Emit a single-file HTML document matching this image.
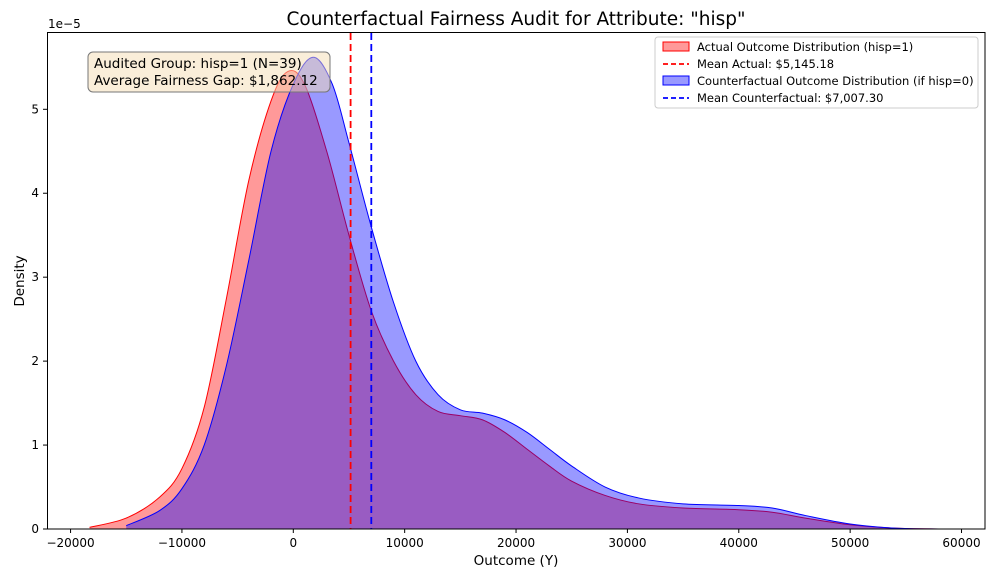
<!DOCTYPE html><html><head><style>body{margin:0;background:#fff}svg{font-family:"DejaVu Sans","Liberation Sans",sans-serif}</style></head><body>
<svg id="s" width="997" height="581" xmlns="http://www.w3.org/2000/svg">
<text x="516" y="25" font-size="18.5" text-anchor="middle">Counterfactual Fairness Audit for Attribute: "hisp"</text>
<g id="curves"></g>
<line x1="350.6" y1="33" x2="350.6" y2="529" stroke="#f00" stroke-width="1.8" stroke-dasharray="7,4"/>
<line x1="371.3" y1="33" x2="371.3" y2="529" stroke="#00f" stroke-width="1.8" stroke-dasharray="7,4"/>
<rect x="47.5" y="32.5" width="937.5" height="496.5" fill="none" stroke="#000" stroke-width="1"/>
<g id="ticks" font-size="12"></g>
<text x="516" y="565" font-size="13.5" text-anchor="middle">Outcome (Y)</text>
<text transform="translate(24,281) rotate(-90)" font-size="13.5" text-anchor="middle">Density</text>
<text x="48" y="28" font-size="12">1e−5</text>
<rect x="88" y="52" width="242" height="40" rx="5" fill="#f5deb3" fill-opacity="0.5" stroke="#777"/>
<text x="94" y="68" font-size="13.5">Audited Group: hisp=1 (N=39)</text>
<text x="94" y="85" font-size="13.5">Average Fairness Gap: $1,862.12</text>
<g font-size="11.5">
<rect x="655" y="37" width="323" height="71" rx="3" fill="#fff" fill-opacity="0.8" stroke="#ccc"/>
<rect x="663" y="42" width="26" height="9" fill="#f00" fill-opacity="0.4" stroke="#f00"/>
<text x="697" y="51">Actual Outcome Distribution (hisp=1)</text>
<line x1="663" y1="64" x2="689" y2="64" stroke="#f00" stroke-width="1.8" stroke-dasharray="5,3"/>
<text x="697" y="68">Mean Actual: $5,145.18</text>
<rect x="663" y="76" width="26" height="9" fill="#00f" fill-opacity="0.4" stroke="#00f"/>
<text x="697" y="85">Counterfactual Outcome Distribution (if hisp=0)</text>
<line x1="663" y1="98" x2="689" y2="98" stroke="#00f" stroke-width="1.8" stroke-dasharray="5,3"/>
<text x="697" y="102">Mean Counterfactual: $7,007.30</text>
</g>
</svg>
<script>
var X=v=>293.3+v*0.011137,Y=d=>529-d*83.94;
var R=[[-18300,0.02],[-15000,0.13],[-12000,0.38],[-10000,0.72],[-8000,1.45],[-6000,2.75],[-4000,4.15],[-2000,5.1],[-500,5.45],[1000,5.3],[3000,4.5],[5000,3.5],[7000,2.6],[9000,2.0],[11000,1.6],[13000,1.4],[15000,1.35],[17000,1.3],[19000,1.15],[21000,0.95],[23000,0.75],[25000,0.57],[28000,0.4],[31000,0.3],[35000,0.25],[40000,0.23],[43000,0.2],[46000,0.13],[50000,0.05],[54000,0.01],[58000,0]];
var B=[[-15000,0.04],[-12000,0.22],[-10000,0.48],[-8000,1.0],[-6000,1.95],[-4000,3.2],[-2000,4.5],[0,5.3],[1800,5.62],[3500,5.3],[5000,4.6],[7000,3.6],[9000,2.7],[11000,2.0],[13000,1.6],[15000,1.42],[17000,1.38],[19000,1.3],[21000,1.15],[23000,0.95],[25000,0.75],[28000,0.5],[31000,0.37],[35000,0.3],[40000,0.28],[43000,0.25],[46000,0.16],[50000,0.06],[54000,0.01],[58000,0]];
function path(P){var p=P.map(a=>[X(a[0]),Y(a[1])]),s="M"+p[0][0]+","+p[0][1];
for(var i=0;i<p.length-1;i++){var a=p[i-1]||p[i],b=p[i],c=p[i+1],d=p[i+2]||c;
s+=" C"+(b[0]+(c[0]-a[0])/6)+","+(b[1]+(c[1]-a[1])/6)+" "+(c[0]-(d[0]-b[0])/6)+","+(c[1]-(d[1]-b[1])/6)+" "+c[0]+","+c[1];}return s;}
var g=document.getElementById("curves"),h="";
[[R,"#f00"],[B,"#00f"]].forEach(function(q){var P=q[0],s=path(P);
h+='<path d="'+s+' L'+X(P[P.length-1][0])+',529 L'+X(P[0][0])+',529 Z" fill="'+q[1]+'" fill-opacity="0.4"/>';
h+='<path d="'+s+'" fill="none" stroke="'+q[1]+'" stroke-width="1"/>';});
g.innerHTML=h;
var t="";for(var v=-20000;v<=60000;v+=10000){var x=X(v);t+='<line x1="'+x+'" y1="529" x2="'+x+'" y2="533" stroke="#000"/><text x="'+x+'" y="547" text-anchor="middle">'+(v<0?"−"+(-v):v)+'</text>';}
for(var k=0;k<=5;k++){var y=Y(k);t+='<line x1="43" y1="'+y+'" x2="47.5" y2="'+y+'" stroke="#000"/><text x="39" y="'+(y+4)+'" text-anchor="end">'+k+'</text>';}
document.getElementById("ticks").innerHTML=t;
</script></body></html>
